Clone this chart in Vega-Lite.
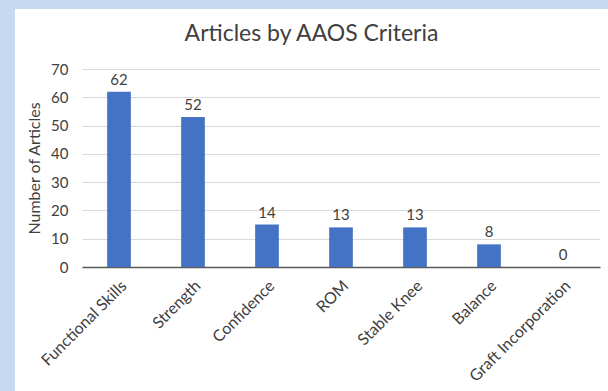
{
  "$schema": "https://vega.github.io/schema/vega-lite/v6.json",
  "width": 593,
  "height": 382,
  "autosize": {"type": "none"},
  "padding": {"left": 15, "top": 9, "right": 0, "bottom": 0},
  "background": "#C6D9F0",
  "config": {"view": {"fill": "white", "stroke": null}},
  "title": {"text": "Articles by AAOS Criteria", "offset": -37, "fontSize": 23, "font": "Lato", "fontWeight": "normal", "color": "#404040", "anchor": "middle", "frame": "group"},
  "data": {"values": [
    {"criterion": "Functional Skills", "articles": 62, "label": 62},
    {"criterion": "Strength", "articles": 53, "label": 52},
    {"criterion": "Confidence", "articles": 15, "label": 14},
    {"criterion": "ROM", "articles": 14, "label": 13},
    {"criterion": "Stable Knee", "articles": 14, "label": 13},
    {"criterion": "Balance", "articles": 8, "label": 8},
    {"criterion": "Graft Incorporation", "articles": 0, "label": 0}
  ]},
  "encoding": {
    "x": {"field": "criterion", "type": "nominal", "sort": null,
      "scale": {"range": [67, 585], "paddingInner": 0.68, "paddingOuter": 0.34},
      "axis": {"title": null, "offset": -124, "labelAngle": -45, "labelAlign": "right", "labelBaseline": "middle", "ticks": false, "domainColor": "#595959", "domainWidth": 1.5, "labelFontSize": 16, "labelColor": "#404040", "labelFont": "Lato", "labelPadding": 16, "labelOffset": 5, "grid": false, "labelOverlap": false}},
    "y": {"field": "articles", "type": "quantitative",
      "scale": {"domain": [0, 70], "range": [258, 60], "nice": false},
      "axis": {"title": "Number of Articles", "offset": -67, "values": [0, 10, 20, 30, 40, 50, 60, 70], "domain": false, "ticks": false, "gridColor": "#D9D9D9", "labelFontSize": 15, "labelColor": "#404040", "labelFont": "Lato", "labelPadding": 14, "titleFontSize": 16, "titleFontWeight": "normal", "titleColor": "#404040", "titleFont": "Lato", "titlePadding": 8}}
  },
  "layer": [
    {"mark": {"type": "bar", "color": "#4472C4"}},
    {"mark": {"type": "text", "baseline": "bottom", "dy": -4, "fontSize": 15, "font": "Lato", "color": "#404040"}, "encoding": {"text": {"field": "label"}}}
  ]
}
